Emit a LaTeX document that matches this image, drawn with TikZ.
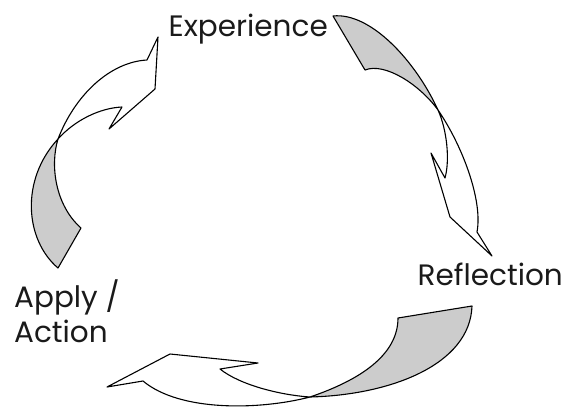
\documentclass[tikz,border=0pt]{standalone}
\usepackage{fontspec}
\setmainfont{Poppins}
\usepackage{tikz}
\definecolor{tailc}{HTML}{CCCCCC}
\definecolor{inkc}{HTML}{000000}
\definecolor{textc}{HTML}{1A1A1A}

\begin{document}
\begin{tikzpicture}[x=1pt, y=-1pt, line join=round,
    backside/.style={draw=inkc, fill=tailc, line width=1.1pt},
    frontside/.style={draw=inkc, fill=white, line width=1.1pt},
    lbl/.style={inner sep=0pt, text=textc, font=\fontsize{29.5}{35}\selectfont}]
  \useasboundingbox (0,0) rectangle (567,407);
  \draw[backside] (333,16) .. controls (370,12) and (415,60) .. (438,110)
    .. controls (420,85) and (385,62) .. (365,70) -- cycle;
  \draw[frontside] (438,110) .. controls (462,145) and (483,200) .. (477,232)
    -- (492,256) -- (450,217) -- (431,153) -- (445,178)
    .. controls (450,160) and (447,130) .. (438,110) -- cycle;
  \draw[backside] (472,306) -- (398,318) .. controls (398,355) and (360,380) .. (310,397)
    .. controls (390,395) and (470,365) .. (472,306) -- cycle;
  \draw[frontside] (310,397) .. controls (280,395) and (240,385) .. (220,369)
    -- (258,363) -- (170,354) -- (107,387) -- (143,381)
    .. controls (180,412) and (260,410) .. (310,397) -- cycle;
  \draw[backside] (58,268) -- (81,228) .. controls (55,205) and (50,165) .. (58,139)
    .. controls (20,180) and (25,240) .. (58,268) -- cycle;
  \draw[frontside] (58,139) .. controls (75,95) and (110,62) .. (147,60)
    -- (158,37) -- (155,89) -- (109,129) -- (122,107)
    .. controls (100,108) and (75,120) .. (58,139) -- cycle;
  \node[lbl, anchor=base east] (exp) at (328,36) {Experience};
  \node[lbl, anchor=base east] (refl) at (563,285) {Reflection};
  \node[lbl, anchor=base west, align=left] (act) at (14,342) {Apply /\\Action};
\end{tikzpicture}
\end{document}
